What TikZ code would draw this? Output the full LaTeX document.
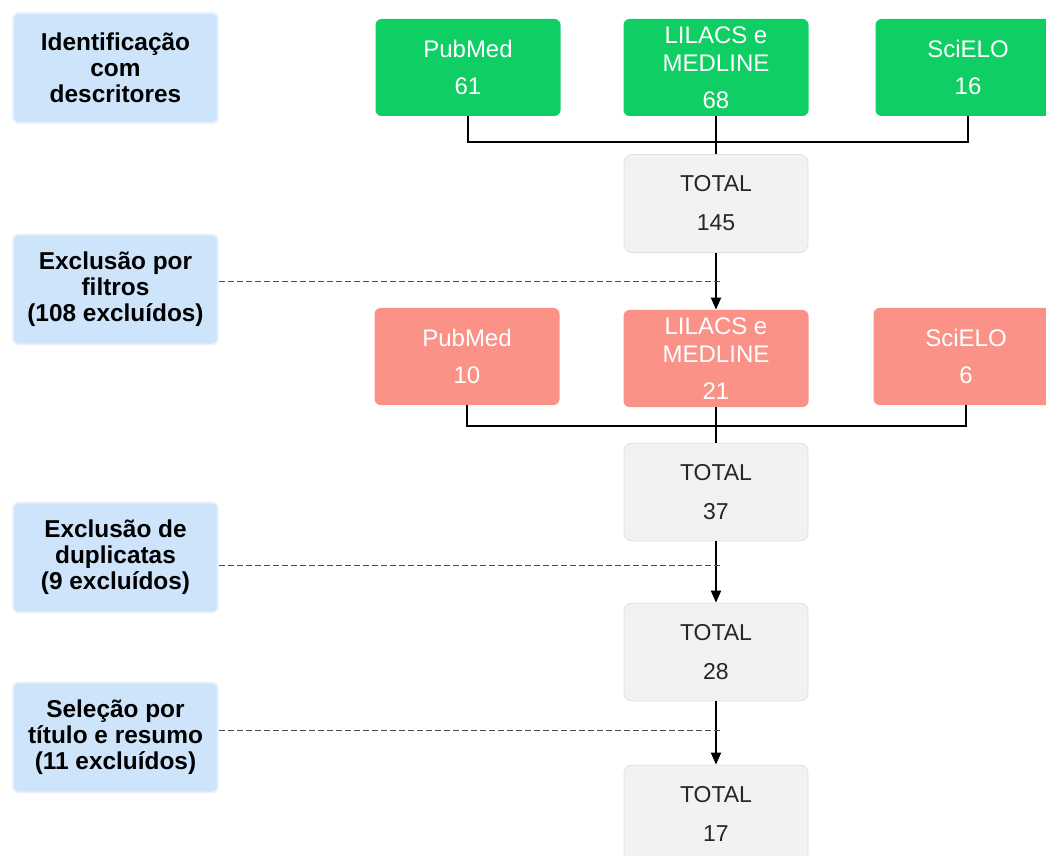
\documentclass[tikz,border=0pt]{standalone}
\usepackage{fontspec}
\setmainfont{Liberation Sans}
\usetikzlibrary{arrows.meta}
\definecolor{srcgreen}{RGB}{14,206,100}
\definecolor{exred}{RGB}{250,146,136}
\definecolor{stepblue}{RGB}{206,228,250}
\definecolor{totalgray}{RGB}{242,242,242}

\begin{document}
\begin{tikzpicture}[x=0.5pt,y=-0.5pt,
  stage/.style={fill=stepblue,draw=stepblue!45!white,line width=0.8pt,rounded corners=3pt,minimum width=102.5pt,minimum height=55pt,align=center,inner sep=0pt,font=\bfseries\fontsize{12.2}{13}\selectfont,text=black},
  src/.style={rounded corners=3pt,minimum width=92.5pt,minimum height=48.5pt,align=center,inner sep=0pt,font=\fontsize{12}{14}\selectfont,text=white},
  total/.style={fill=totalgray,draw=black!12,rounded corners=4pt,minimum width=92pt,minimum height=49pt,align=center,inner sep=0pt,font=\fontsize{11.5}{19.5}\selectfont,text=black!85},
  bus/.style={line width=1pt},
  arr/.style={line width=1pt,-{Triangle[length=6pt,width=5pt]}},
  cutline/.style={dashed,dash pattern=on 3pt off 1.5pt,line width=0.5pt,draw=black!70}]
\clip (0,0) rectangle (1046,856);
% etapas
\node[stage] (ident) at (115.5,68) {Identificação\\com\\descritores};
\node[stage] (filt) at (115.5,289.5) {Exclusão por\\filtros\\(108 excluídos)};
\node[stage] (dup) at (115.5,557.5) {Exclusão de\\duplicatas\\(9 excluídos)};
\node[stage] (sel) at (115.5,737.5) {Seleção por\\título e resumo\\(11 excluídos)};
% bases
\node[src,fill=srcgreen] (gpub) at (468,67.5) {PubMed\\[4.5pt]61};
\node[src,fill=srcgreen] (glil) at (716,67.5) {LILACS e\\MEDLINE\\[4.5pt]68};
\node[src,fill=srcgreen] (gsci) at (968,67.5) {SciELO\\[4.5pt]16};
\node[src,fill=exred] (rpub) at (467,356.5) {PubMed\\[4.5pt]10};
\node[src,fill=exred] (rlil) at (716,358.5) {LILACS e\\MEDLINE\\[4.5pt]21};
\node[src,fill=exred] (rsci) at (966,356.5) {SciELO\\[4.5pt]6};
% totais
\node[total] (tot1) at (716,203.5) {TOTAL\\145};
\node[total] (tot2) at (716,492) {TOTAL\\37};
\node[total] (tot3) at (716,652) {TOTAL\\28};
\node[total] (tot4) at (716,814) {TOTAL\\17};
% ligacoes
\coordinate (gbus) at (716,142);
\coordinate (rbus) at (716,426);
\draw[bus] (gpub.south) |- (gbus) -| (gsci.south);
\draw[bus] (glil.south) -- (tot1.north);
\draw[arr] (tot1.south) -- (rlil.north);
\draw[bus] (rpub.south) |- (rbus) -| (rsci.south);
\draw[line width=0.6pt] (rlil.south) -- (tot2.north);
\draw[arr] (tot2.south) -- (tot3.north);
\draw[arr] (tot3.south) -- (tot4.north);
% exclusoes
\coordinate (c1) at (722,282);
\coordinate (c2) at (722,565);
\coordinate (c3) at (722,730);
\draw[cutline] (filt.east |- c1) -- (c1);
\draw[cutline] (dup.east |- c2) -- (c2);
\draw[cutline] (sel.east |- c3) -- (c3);
\end{tikzpicture}
\end{document}
